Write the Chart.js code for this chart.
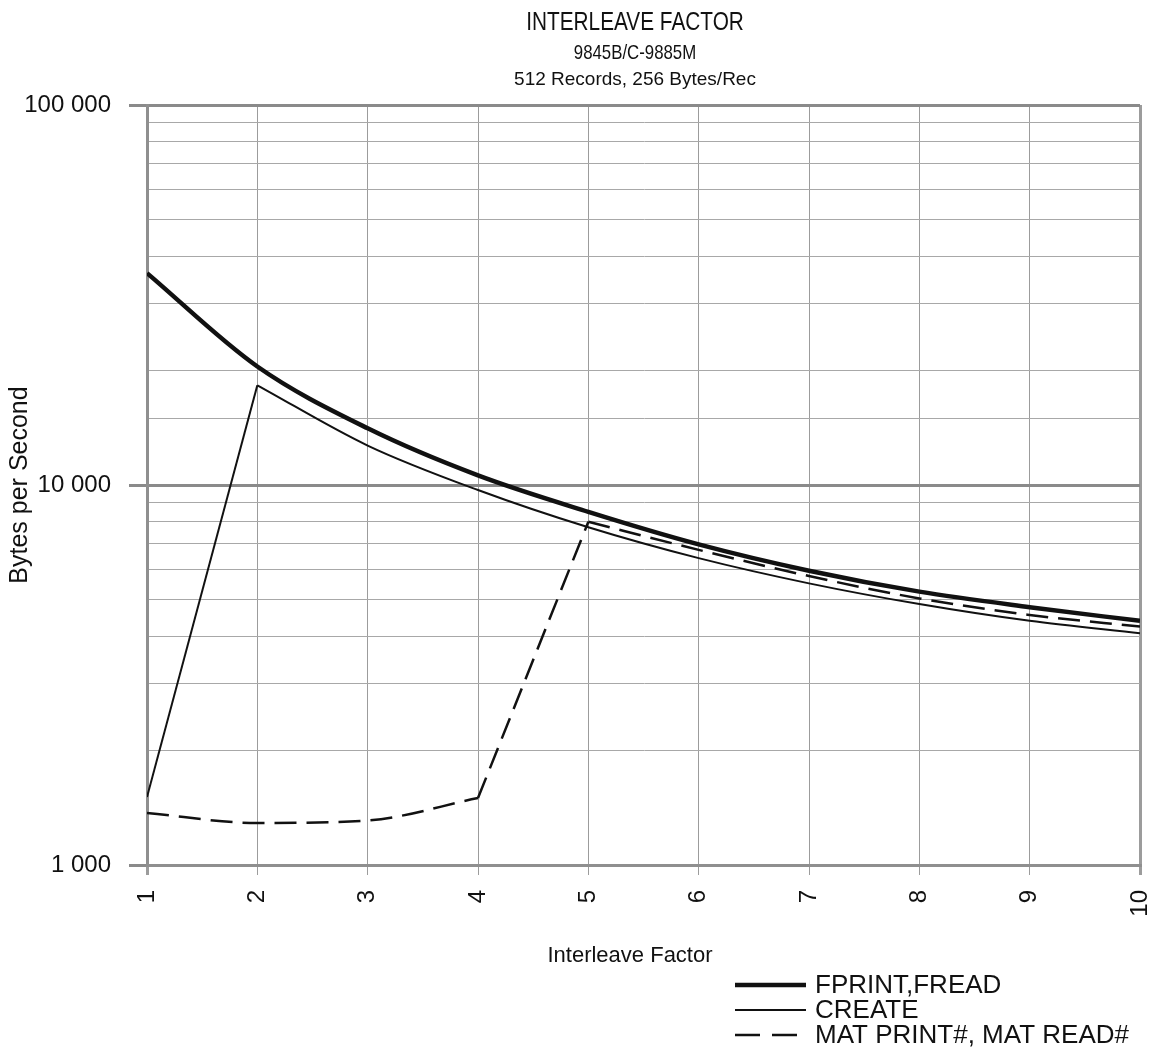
<!DOCTYPE html>
<html>
<head>
<meta charset="utf-8">
<script src="https://cdn.jsdelivr.net/npm/chart.js@4.4.1/dist/chart.umd.min.js"></script>
<style>
  html, body { margin: 0; padding: 0; background: #ffffff; }
  #wrap { width: 1154px; height: 1063px; }
</style>
</head>
<body>
<div id="wrap"><canvas id="c" width="1154" height="1063"></canvas></div>
<script>
// ---- data ----
const interleave = [1, 2, 3, 4, 5, 6, 7, 8, 9, 10];
const fprintFread = [36100, 20500, 14100, 10600, 8500, 6980, 5950, 5240, 4770, 4390];
const create = [1510, 18300, 12700, 9700, 7740, 6420, 5510, 4860, 4390, 4070];
const matPrintRead = [1370, 1290, 1310, 1500, 8000, 6750, 5760, 5030, 4550, 4240];
const seriesLabels = ['FPRINT,FREAD', 'CREATE', 'MAT PRINT#, MAT READ#'];
const titleLines = ['INTERLEAVE FACTOR', '9845B/C-9885M', '512 Records, 256 Bytes/Rec'];
const xTitle = 'Interleave Factor';
const yTitle = 'Bytes per Second';

const FONT = "'Liberation Sans', Arial, Helvetica, sans-serif";
const INK = '#111111';

function pts(ys, from, to) {
  const out = [];
  for (let i = from; i <= to; i++) out.push({ x: interleave[i], y: ys[i] });
  return out;
}
function isDecade(v) {
  const l = Math.log10(v);
  return Math.abs(l - Math.round(l)) < 1e-9;
}
function fmt(v) {
  return String(Math.round(v)).replace(/\B(?=(\d{3})+(?!\d))/g, ' ');
}

const base = { pointRadius: 0, pointHoverRadius: 0, fill: false, borderColor: INK, borderCapStyle: 'butt', borderJoinStyle: 'miter' };

const datasets = [
  Object.assign({}, base, { label: seriesLabels[0], data: pts(fprintFread, 0, 9), borderWidth: 4.5, cubicInterpolationMode: 'monotone', legendItem: true }),
  Object.assign({}, base, { label: seriesLabels[1], data: pts(create, 1, 9), borderWidth: 2, cubicInterpolationMode: 'monotone', legendItem: true }),
  Object.assign({}, base, { label: seriesLabels[1] + ' (rise)', data: pts(create, 0, 1), borderWidth: 2, tension: 0 }),
  Object.assign({}, base, { label: seriesLabels[2], data: pts(matPrintRead, 4, 9), borderWidth: 2.5, borderDash: [22, 10], cubicInterpolationMode: 'monotone', legendItem: true }),
  Object.assign({}, base, { label: seriesLabels[2] + ' (low)', data: pts(matPrintRead, 0, 3), borderWidth: 2.5, borderDash: [22, 10], cubicInterpolationMode: 'monotone' }),
  Object.assign({}, base, { label: seriesLabels[2] + ' (rise)', data: pts(matPrintRead, 3, 4), borderWidth: 2.5, borderDash: [22, 10], tension: 0 })
];

function condensedText(ctx, text, x, y, sx) {
  ctx.save();
  ctx.translate(x, y);
  ctx.scale(sx, 1);
  ctx.fillText(text, 0, 0);
  ctx.restore();
}

const textPlugin = {
  id: 'textPlugin',
  afterDraw(chart) {
    const ctx = chart.ctx;
    const cx = 635;
    ctx.save();
    ctx.fillStyle = INK;
    ctx.textAlign = 'center';
    ctx.textBaseline = 'middle';
    ctx.font = '26px ' + FONT;
    condensedText(ctx, titleLines[0], cx, 23, 0.8);
    ctx.font = '21px ' + FONT;
    condensedText(ctx, titleLines[1], cx, 53, 0.8);
    ctx.font = '19px ' + FONT;
    ctx.fillText(titleLines[2], cx, 80);

    ctx.font = '22px ' + FONT;
    ctx.fillText(xTitle, 630, 956);

    // legend
    let row = 0;
    const rowY = [985, 1010, 1035];
    chart.data.datasets.forEach(ds => {
      if (!ds.legendItem) return;
      const y = rowY[row++];
      ctx.beginPath();
      ctx.lineWidth = ds.borderWidth;
      ctx.strokeStyle = ds.borderColor;
      ctx.setLineDash(ds.borderDash ? [25, 12] : []);
      ctx.moveTo(735, y);
      ctx.lineTo(806, y);
      ctx.stroke();
      ctx.setLineDash([]);
      ctx.font = '26px ' + FONT;
      ctx.textAlign = 'left';
      ctx.fillText(ds.label, 815, y + 1);
    });
    ctx.restore();
  }
};

new Chart(document.getElementById('c'), {
  type: 'line',
  data: { datasets },
  plugins: [textPlugin],
  options: {
    responsive: false,
    animation: false,
    events: [],
    layout: { padding: { top: 105, right: 14, bottom: 88, left: 0 } },
    plugins: { legend: { display: false }, title: { display: false }, tooltip: { enabled: false } },
    scales: {
      x: {
        type: 'linear',
        min: 1, max: 10,
        afterFit(scale) { scale.height = 110; scale.paddingRight = 0; scale.paddingLeft = 0; },
        border: { display: true, color: '#8f8f8f', width: 3 },
        grid: {
          color: '#9c9c9c',
          lineWidth: c => (c.tick && (c.tick.value === 1 || c.tick.value === 10)) ? 3 : 1,
          tickLength: 10,
          tickColor: '#9c9c9c'
        },
        ticks: {
          stepSize: 1,
          minRotation: 90, maxRotation: 90,
          padding: 15,
          color: INK,
          font: { family: FONT, size: 24 },
          callback: v => String(v)
        },
        title: { display: false }
      },
      y: {
        type: 'logarithmic',
        min: 1000, max: 100000,
        afterFit(scale) { scale.width = 147; },
        border: { display: true, color: '#8f8f8f', width: 3 },
        grid: {
          color: c => (c.tick && isDecade(c.tick.value)) ? '#8a8a8a' : '#a8a8a8',
          lineWidth: c => (c.tick && isDecade(c.tick.value)) ? 3 : 1,
          tickLength: 18,
          tickColor: c => (c.tick && isDecade(c.tick.value)) ? '#8a8a8a' : 'rgba(0,0,0,0)'
        },
        ticks: {
          autoSkip: false,
          padding: 18,
          color: INK,
          font: { family: FONT, size: 24 },
          callback: v => isDecade(v) ? fmt(v) : ''
        },
        title: { display: true, text: yTitle, color: INK, font: { family: FONT, size: 25 }, padding: { top: 5, bottom: 0 } }
      }
    }
  }
});
</script>
</body>
</html>
